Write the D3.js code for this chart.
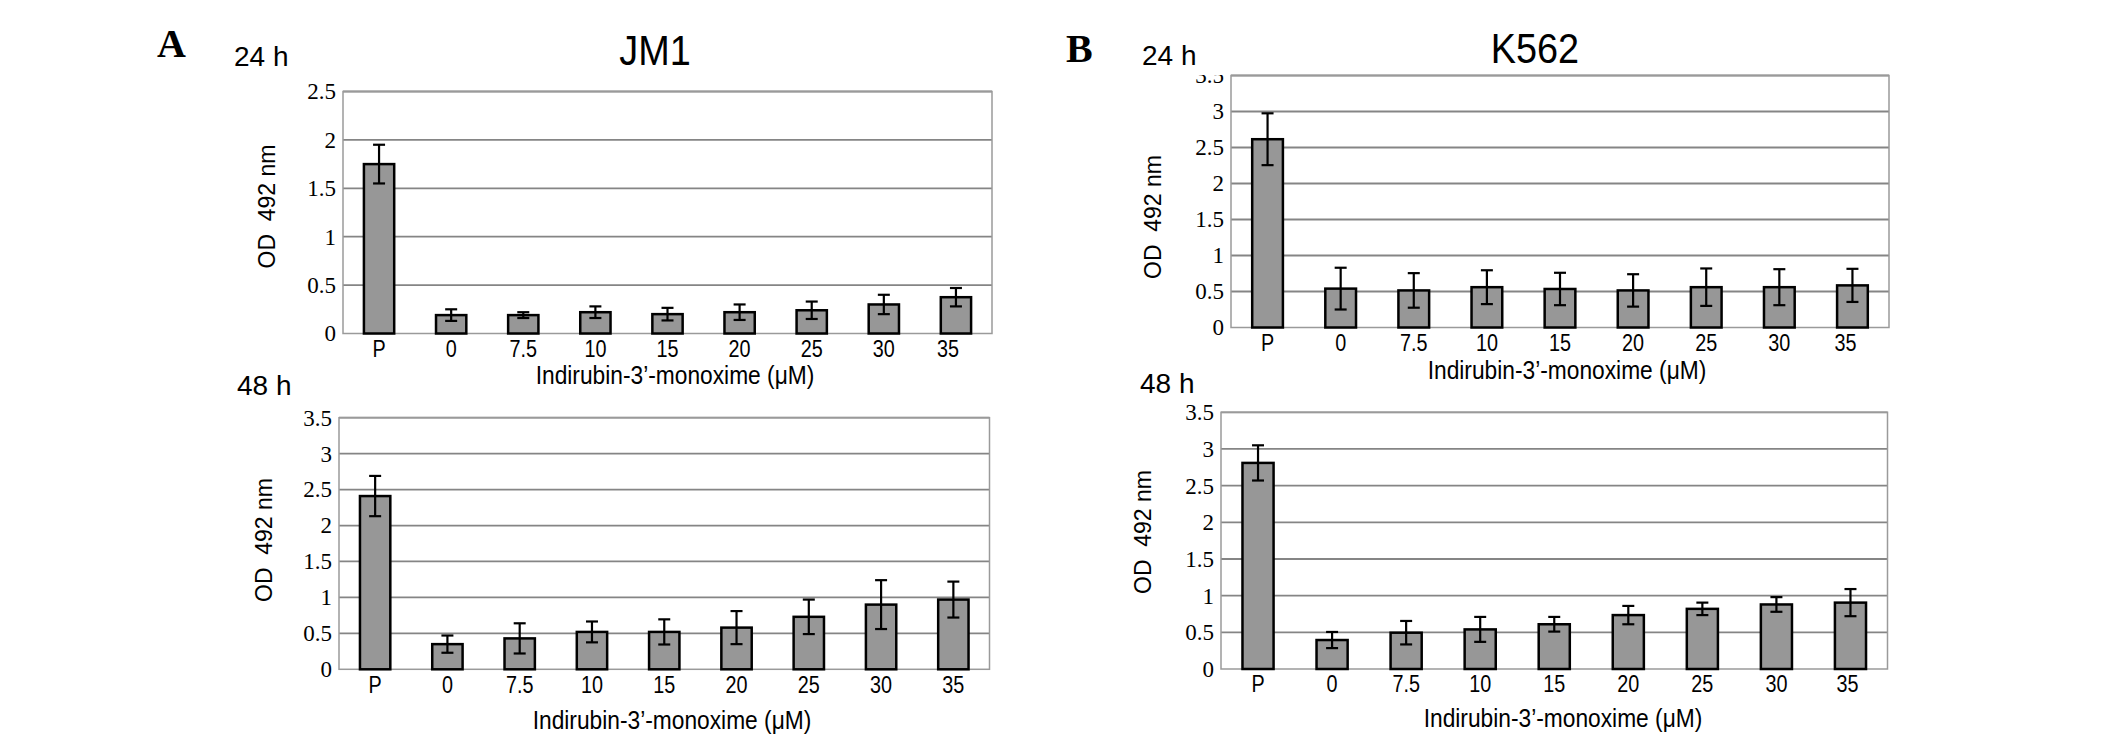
<!DOCTYPE html>
<html>
<head>
<meta charset="utf-8">
<script src="https://cdn.jsdelivr.net/npm/d3@7"></script>
<style>
  body { margin: 0; background: #fff; }
  text { fill: #000; }
</style>
</head>
<body>
<svg id="chart" width="2126" height="736"></svg>
<script>
// concentrations (P = positive control)
const categories = ['P', '0', '7.5', '10', '15', '20', '25', '30', '35']

// OD 492 nm
const jm1_24h = [1.75, 0.19, 0.19, 0.22, 0.20, 0.22, 0.24, 0.30, 0.375]
const jm1_24hErr = [0.20, 0.06, 0.03, 0.06, 0.065, 0.08, 0.09, 0.10, 0.095]
const jm1_48h = [2.41, 0.35, 0.43, 0.52, 0.52, 0.58, 0.73, 0.90, 0.97]
const jm1_48hErr = [0.28, 0.12, 0.21, 0.145, 0.175, 0.23, 0.24, 0.34, 0.25]
const k562_24h = [2.615, 0.54, 0.515, 0.56, 0.535, 0.515, 0.56, 0.56, 0.585]
const k562_24hErr = [0.36, 0.29, 0.24, 0.235, 0.225, 0.225, 0.26, 0.25, 0.23]
const k562_48h = [2.81, 0.395, 0.495, 0.54, 0.61, 0.735, 0.82, 0.88, 0.905]
const k562_48hErr = [0.24, 0.11, 0.16, 0.17, 0.10, 0.125, 0.085, 0.10, 0.185]

const yTicks24 = [0, 0.5, 1, 1.5, 2, 2.5]
const yTicks = [0, 0.5, 1, 1.5, 2, 2.5, 3, 3.5]

const yLabel = 'OD\u00a0 492 nm'
const xLabel = 'Indirubin-3\u2019-monoxime (\u03bcM)'

const SERIF = "'Liberation Serif', 'Times New Roman', serif"
const SANS = "'Liberation Sans', Arial, sans-serif"

const svg = d3.select('#chart')

// layout for each of the four panels
const panels = [
  {values: jm1_24h, errs: jm1_24hErr, ticks: yTicks24, lastShift: -8,
   left: 343, right: 992, top: 91.5, bottom: 333.5,
   time: '24 h', timeX: 234, timeY: 66, odX: 266.5, odY: 206.5, titleX: 675, titleY: 384},
  {values: k562_24h, errs: k562_24hErr, ticks: yTicks, clipTop: 75, lastShift: -7,
   left: 1231, right: 1889, top: 75.5, bottom: 327.5,
   time: '24 h', timeX: 1142, timeY: 65, odX: 1153, odY: 217, titleX: 1567, titleY: 379},
  {values: jm1_48h, errs: jm1_48hErr, ticks: yTicks, lastShift: 0,
   left: 339, right: 989.5, top: 417.7, bottom: 669.3,
   time: '48 h', timeX: 237, timeY: 395, odX: 264, odY: 540, titleX: 672, titleY: 729},
  {values: k562_48h, errs: k562_48hErr, ticks: yTicks, lastShift: -3,
   left: 1221, right: 1887.5, top: 412.3, bottom: 669,
   time: '48 h', timeX: 1140, timeY: 393, odX: 1143, odY: 532, titleX: 1563, titleY: 727}
]

// squeeze text horizontally, the figure uses a narrow face
function narrow(sel, k) {
  sel.each(function() {
    const w = this.getComputedTextLength()
    d3.select(this).attr('textLength', w * k).attr('lengthAdjust', 'spacingAndGlyphs')
  })
}

function drawPanel(p, idx) {
  const g = svg.append('g')
  const x = d3.scaleBand().domain(categories).range([p.left, p.right])
    .paddingInner(0.58).paddingOuter(0.29)
  const y = d3.scaleLinear().domain([0, d3.max(p.ticks)]).range([p.bottom, p.top])

  // gridlines + frame
  g.selectAll('line.grid').data(p.ticks.filter(t => t > 0)).join('line')
    .attr('class', 'grid')
    .attr('x1', p.left).attr('x2', p.right)
    .attr('y1', d => y(d)).attr('y2', d => y(d))
    .attr('stroke', '#858585').attr('stroke-width', 1.8)
  g.append('rect')
    .attr('x', p.left).attr('y', p.top)
    .attr('width', p.right - p.left).attr('height', p.bottom - p.top)
    .attr('fill', 'none').attr('stroke', '#9a9a9a').attr('stroke-width', 1.5)

  // y axis, Times-like digits
  const ya = g.append('g').attr('transform', `translate(${p.left},0)`)
    .call(d3.axisLeft(y).tickValues(p.ticks).tickSize(0).tickPadding(7).tickFormat(d => String(d)))
  ya.select('.domain').remove()
  ya.attr('font-family', SERIF).attr('font-size', 23)
  ya.selectAll('text').attr('font-family', SERIF).style('font-family', SERIF).style('font-size', '23px')
  if (p.clipTop) {
    const id = 'clip' + idx
    svg.append('clipPath').attr('id', id).append('rect')
      .attr('x', -200).attr('y', p.clipTop).attr('width', 400).attr('height', 736)
    ya.attr('clip-path', `url(#${id})`)
  }

  // x axis
  const xa = g.append('g').attr('transform', `translate(0,${p.bottom})`)
    .call(d3.axisBottom(x).tickSize(0).tickPadding(7))
  xa.select('.domain').remove()
  xa.attr('font-family', SANS).attr('font-size', 23)
  xa.selectAll('text').style('font-family', SANS).style('font-size', '23px').call(narrow, 0.86)
  xa.selectAll('text').filter(d => d === '35').attr('dx', p.lastShift)

  // bars
  g.selectAll('rect.bar').data(p.values).join('rect')
    .attr('class', 'bar')
    .attr('x', (d, i) => x(categories[i]))
    .attr('y', d => y(d))
    .attr('width', x.bandwidth())
    .attr('height', d => y(0) - y(d))
    .attr('fill', '#979797').attr('stroke', '#000').attr('stroke-width', 2.5)

  // error bars
  const cap = 6
  const cx = i => x(categories[i]) + x.bandwidth() / 2
  const eb = g.selectAll('g.err').data(p.values).join('g').attr('class', 'err')
    .attr('stroke', '#000').attr('stroke-width', 2.2)
  eb.append('line')
    .attr('x1', (d, i) => cx(i)).attr('x2', (d, i) => cx(i))
    .attr('y1', (d, i) => y(d + p.errs[i]))
    .attr('y2', (d, i) => y(d - p.errs[i]))
  eb.append('line')
    .attr('x1', (d, i) => cx(i) - cap).attr('x2', (d, i) => cx(i) + cap)
    .attr('y1', (d, i) => y(d + p.errs[i]))
    .attr('y2', (d, i) => y(d + p.errs[i]))
  eb.append('line')
    .attr('x1', (d, i) => cx(i) - cap).attr('x2', (d, i) => cx(i) + cap)
    .attr('y1', (d, i) => y(d - p.errs[i]))
    .attr('y2', (d, i) => y(d - p.errs[i]))

  // labels
  g.append('text').attr('x', p.timeX).attr('y', p.timeY)
    .style('font-family', SANS).style('font-size', '28px').text(p.time)
  g.append('text')
    .attr('transform', `translate(${p.odX},${p.odY}) rotate(-90)`)
    .attr('text-anchor', 'middle').attr('dy', '0.36em')
    .style('font-family', SANS).style('font-size', '23px').text(yLabel)
  g.append('text').attr('x', p.titleX).attr('y', p.titleY)
    .attr('text-anchor', 'middle')
    .style('font-family', SANS).style('font-size', '25px').text(xLabel)
    .call(narrow, 0.91)
}

panels.forEach(drawPanel)

// panel letters and cell line titles
svg.append('text').attr('x', 157).attr('y', 57)
  .style('font-family', SERIF).style('font-size', '40px').style('font-weight', 'bold').text('A')
svg.append('text').attr('x', 1066).attr('y', 62)
  .style('font-family', SERIF).style('font-size', '40px').style('font-weight', 'bold').text('B')
svg.append('text').attr('x', 655).attr('y', 65).attr('text-anchor', 'middle')
  .style('font-family', SANS).style('font-size', '42px').text('JM1').call(narrow, 0.9)
svg.append('text').attr('x', 1535).attr('y', 63).attr('text-anchor', 'middle')
  .style('font-family', SANS).style('font-size', '42px').text('K562').call(narrow, 0.9)
</script>
</body>
</html>
